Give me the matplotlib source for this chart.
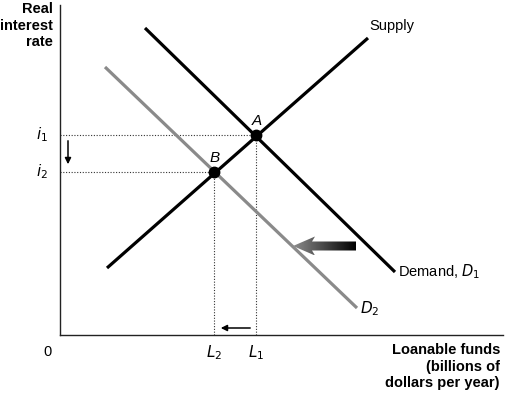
import matplotlib
matplotlib.use("Agg")
import matplotlib.pyplot as plt
import numpy as np
from matplotlib.patches import Polygon

plt.rcParams['font.family'] = ['Liberation Sans', 'DejaVu Sans']

# Curves (data units: loanable funds on x, interest rate on y)
supply_x = [47, 308]
supply_y = [67, 297]
demand1_x = [85, 335]
demand1_y = [307, 63]
demand2_x = [45, 297]
demand2_y = [268, 27]
point_A = (196, 200)
point_B = (154, 163)
x_max, y_max = 443, 330

fig = plt.figure(figsize=(5.05, 3.95), dpi=100)
W, H = 505, 395
ax = fig.add_axes([60 / W, 1 - 335 / H, (503 - 60) / W, (335 - 5) / H])
ax.set_xlim(0, x_max)
ax.set_ylim(0, y_max)
ax.set_xticks([])
ax.set_yticks([])
for s in ['top', 'right']:
    ax.spines[s].set_visible(False)
for s in ['left', 'bottom']:
    ax.spines[s].set_linewidth(1.0)
    ax.spines[s].set_color('#222222')

# dotted guides
dot = dict(color='#333333', lw=0.8, ls=(0, (1, 1.5)))
ax.plot([0, point_A[0]], [point_A[1]] * 2, **dot)
ax.plot([point_A[0]] * 2, [0, point_A[1]], **dot)
ax.plot([0, point_B[0]], [point_B[1]] * 2, **dot)
ax.plot([point_B[0]] * 2, [0, point_B[1]], **dot)

ax.plot(demand2_x, demand2_y, color='#8a8a8a', lw=2.3, solid_capstyle='butt')
ax.plot(supply_x, supply_y, color='black', lw=2.3, solid_capstyle='butt')
ax.plot(demand1_x, demand1_y, color='black', lw=2.3, solid_capstyle='butt')

ax.plot(*point_A, 'o', color='black', ms=7.5)
ax.plot(*point_B, 'o', color='black', ms=7.5)

fs = 10.5
ax.text(point_A[0] + 1, point_A[1] + 7, 'A', style='italic', fontsize=11, ha='center', va='bottom')
ax.text(point_B[0] + 1, point_B[1] + 7, 'B', style='italic', fontsize=11, ha='center', va='bottom')
ax.text(supply_x[1] + 1, supply_y[1] + 12, 'Supply', fontsize=fs, ha='left', va='center')
ax.text(demand1_x[1] + 3, demand1_y[1], r'Demand, $\mathit{D}_1$', fontsize=fs, ha='left', va='center')
ax.text(demand2_x[1] + 3, demand2_y[1] - 1, r'$\mathit{D}_2$', fontsize=fs + 0.5, ha='left', va='center')

# axis labels
ax.text(-18, point_A[1], r'$\mathit{i}_1$', fontsize=fs + 0.5, ha='center', va='center', clip_on=False)
ax.text(-18, point_B[1], r'$\mathit{i}_2$', fontsize=fs + 0.5, ha='center', va='center', clip_on=False)
ax.text(-13, -17, '0', fontsize=fs, ha='center', va='center', clip_on=False)
ax.text(point_B[0], -18, r'$\mathit{L}_2$', fontsize=fs + 0.5, ha='center', va='center', clip_on=False)
ax.text(point_A[0], -18, r'$\mathit{L}_1$', fontsize=fs + 0.5, ha='center', va='center', clip_on=False)
ax.text(-7, 333, 'Real\ninterest\nrate', fontsize=fs, fontweight='bold', ha='right', va='top',
        linespacing=1.25, clip_on=False)
ax.text(440, -8, 'Loanable funds\n(billions of\ndollars per year)', fontsize=fs, fontweight='bold',
        ha='right', va='top', linespacing=1.25, clip_on=False)

# small arrows
ax.annotate('', xy=(8, 168), xytext=(8, 197),
            arrowprops=dict(arrowstyle='-|>', color='black', lw=1.1, mutation_scale=9))
ax.annotate('', xy=(158, 7), xytext=(193, 7),
            arrowprops=dict(arrowstyle='-|>', color='black', lw=1.1, mutation_scale=9))

# big gradient arrow
x_tip, x_tail, y_c = 233, 296, 89
hw, sw, hl = 9.5, 4.5, 22
verts = [(x_tip, y_c), (x_tip + hl, y_c + hw), (x_tip + hl - 3, y_c + sw), (x_tail, y_c + sw),
         (x_tail, y_c - sw), (x_tip + hl - 3, y_c - sw), (x_tip + hl, y_c - hw)]
poly = Polygon(verts, closed=True, facecolor='none', edgecolor='none')
ax.add_patch(poly)
grad = np.linspace(0.55, 0.0, 256).reshape(1, -1)
im = ax.imshow(grad, cmap='gray', vmin=0, vmax=1, extent=[x_tip, x_tail, y_c - hw, y_c + hw],
               aspect='auto', origin='lower', zorder=3)
im.set_clip_path(poly)
ax.set_xlim(0, x_max)
ax.set_ylim(0, y_max)

fig.savefig('out.png', dpi=100)
